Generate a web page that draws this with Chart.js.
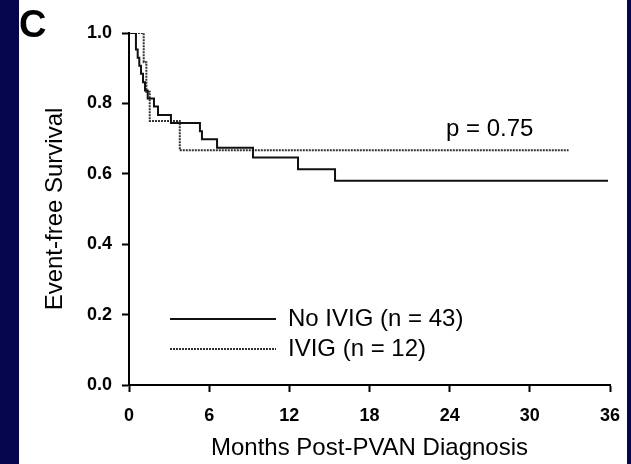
<!DOCTYPE html>
<html>
<head>
<meta charset="utf-8">
<script src="https://cdn.jsdelivr.net/npm/chart.js@4.4.1/dist/chart.umd.min.js"></script>
<style>
  html, body { margin: 0; padding: 0; background: #06064f; }
  #panel { position: absolute; left: 19px; top: 0; width: 608px; height: 464px; background: #fff; }
</style>
</head>
<body>
<div id="panel"><canvas id="survivalChart" width="608" height="464"></canvas></div>
<script>
// Kaplan-Meier event-free survival
const noIvigMonths   = [0, 0.52, 0.65, 0.77, 0.9, 1.05, 1.2, 1.4, 1.87, 2.17, 3.14, 5.31, 5.46, 6.59, 9.28, 12.65, 15.42, 35.85];
const noIvigSurvival = [1.0, 0.953, 0.930, 0.907, 0.884, 0.860, 0.837, 0.814, 0.791, 0.767, 0.744, 0.721, 0.698, 0.674, 0.646, 0.613, 0.580, 0.580];

const ivigMonths   = [0, 1.1, 1.3, 1.55, 3.8, 32.9];
const ivigSurvival = [1.0, 0.917, 0.833, 0.750, 0.667, 0.667];

const seriesLabels = ["No IVIG (n = 43)", "IVIG (n = 12)"];
const xTicks = [0, 6, 12, 18, 24, 30, 36];
const yTicks = [0.0, 0.2, 0.4, 0.6, 0.8, 1.0];

const panelLetter = "C";
const pValueText = "p = 0.75";

const FONT = '"Liberation Sans", Arial, Helvetica, sans-serif';

function toPoints(xs, ys) {
  return xs.map((x, i) => ({ x: x, y: ys[i] }));
}

// panel letter, p value and the in-plot legend
const figureText = {
  id: "figureText",
  afterDraw(chart) {
    const ctx = chart.ctx;
    ctx.save();
    ctx.fillStyle = "#000";
    ctx.textBaseline = "alphabetic";
    ctx.font = "bold 38px " + FONT;
    ctx.fillText(panelLetter, 0, 37);

    ctx.font = "24px " + FONT;
    ctx.fillText(pValueText, 427, 136);

    chart.data.datasets.forEach((ds, i) => {
      const y = 319 + i * 30;
      ctx.strokeStyle = ds.borderColor;
      ctx.lineWidth = ds.borderWidth;
      ctx.setLineDash(ds.borderDash || []);
      ctx.beginPath();
      ctx.moveTo(151, y);
      ctx.lineTo(257, y);
      ctx.stroke();
      ctx.setLineDash([]);
      ctx.fillText(ds.label, 269, y + 7);
    });
    ctx.restore();
  }
};

Chart.defaults.color = "#000";
Chart.defaults.font.family = FONT;

const ctx = document.getElementById("survivalChart").getContext("2d");

new Chart(ctx, {
  type: "line",
  data: {
    datasets: [
      {
        label: seriesLabels[0],
        data: toPoints(noIvigMonths, noIvigSurvival),
        borderColor: "#111",
        borderWidth: 2,
        stepped: "before",
        pointRadius: 0,
        fill: false
      },
      {
        label: seriesLabels[1],
        data: toPoints(ivigMonths, ivigSurvival),
        borderColor: "#333",
        borderWidth: 2,
        borderDash: [2, 1],
        stepped: "before",
        pointRadius: 0,
        fill: false
      }
    ]
  },
  options: {
    responsive: false,
    animation: false,
    devicePixelRatio: 1,
    plugins: {
      legend: { display: false },
      tooltip: { enabled: false }
    },
    layout: {
      padding: { top: 33, right: 17, left: 0, bottom: 0 }
    },
    scales: {
      x: {
        type: "linear",
        min: 0,
        max: 36,
        afterFit: scale => {
          scale.height = 79;
          scale.paddingLeft = 0;
          scale.paddingRight = 0;
        },
        afterBuildTicks: scale => { scale.ticks = xTicks.map(v => ({ value: v })); },
        ticks: {
          font: { size: 18, weight: "bold" },
          padding: 13,
          maxRotation: 0
        },
        grid: { drawOnChartArea: false, drawTicks: true, tickLength: 7, tickWidth: 2, tickColor: "#000" },
        border: { display: true, color: "#000", width: 2 },
        title: {
          display: true,
          text: "Months Post-PVAN Diagnosis",
          font: { size: 24 },
          padding: { top: 0, bottom: 1 }
        }
      },
      y: {
        min: 0,
        max: 1,
        afterFit: scale => {
          scale.width = 110;
          scale.paddingTop = 0;
          scale.paddingBottom = 0;
        },
        afterBuildTicks: scale => { scale.ticks = yTicks.map(v => ({ value: v })); },
        ticks: {
          font: { size: 18, weight: "bold" },
          padding: 10,
          callback: v => v.toFixed(1)
        },
        grid: { drawOnChartArea: false, drawTicks: true, tickLength: 7, tickWidth: 2, tickColor: "#000" },
        border: { display: true, color: "#000", width: 2 },
        title: {
          display: true,
          text: "Event-free Survival",
          font: { size: 24 },
          padding: { top: 22, bottom: 0 }
        }
      }
    }
  },
  plugins: [figureText]
});
</script>
</body>
</html>
